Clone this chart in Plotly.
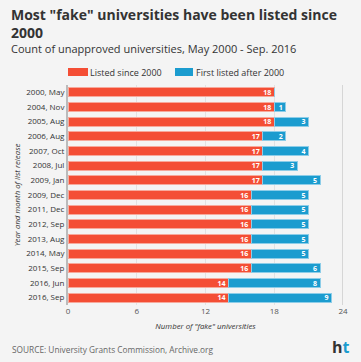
import plotly.graph_objects as go

categories = ["2000, May", "2004, Nov", "2005, Aug", "2006, Aug", "2007, Oct", "2008, Jul",
              "2009, Jan", "2009, Dec", "2011, Dec", "2012, Sep", "2013, Aug", "2014, May",
              "2015, Sep", "2016, Jun", "2016, Sep"]
listed_since_2000 = [18, 18, 18, 17, 17, 17, 17, 16, 16, 16, 16, 16, 16, 14, 14]
first_listed_after = [0, 1, 3, 2, 4, 3, 5, 5, 5, 5, 5, 5, 6, 8, 9]
x_ticks = [0, 6, 12, 18, 24]

RED = "#f44e35"
BLUE = "#1b9ccf"
BG = "#f4f4f4"
FONT = "Open Sans"

W, H = 361, 362
L, R, T, B = 68, 18, 85, 57
PW, PH = W - L - R, H - T - B


def px(x):
    return (x - L) / PW


def py(y):
    return (H - B - y) / PH


fig = go.Figure()
fig.add_trace(go.Bar(
    y=categories, x=listed_since_2000, orientation="h", name="Listed since 2000",
    marker=dict(color=RED, line=dict(color="#f7a99c", width=1)),
    text=[f"<b>{v}</b>" for v in listed_since_2000], textposition="inside", insidetextanchor="end",
    textangle=0, constraintext="none",
    textfont=dict(color="white", size=7, family=FONT),
))
fig.add_trace(go.Bar(
    y=categories, x=first_listed_after, orientation="h", name="First listed after 2000",
    marker=dict(color=BLUE, line=dict(color="#8dcde8", width=1)),
    text=[f"<b>{v}</b>" if v else "" for v in first_listed_after], textposition="inside",
    insidetextanchor="end", textangle=0, constraintext="none",
    textfont=dict(color="white", size=7, family=FONT),
))

fig.update_layout(
    barmode="stack", bargap=0.38,
    width=W, height=H,
    paper_bgcolor=BG, plot_bgcolor=BG,
    margin=dict(l=L, r=R, t=T, b=B),
    font=dict(family=FONT, color="#333333"),
    showlegend=False,
    xaxis=dict(range=[0, 24], tickvals=x_ticks, showgrid=True, gridcolor="#e2e2e2", gridwidth=1,
               zeroline=False, tickfont=dict(size=8, color="#555555"),
               title=dict(text="<i>Number of \"fake\" universities</i>", font=dict(size=7.8, color="#333333"), standoff=8),
               showline=False, fixedrange=True),
    yaxis=dict(autorange="reversed", tickfont=dict(size=8, color="#333333"), showgrid=False,
               showline=True, linecolor="#bbbbbb", linewidth=2, ticks="", ticklen=0, fixedrange=True,
               title=dict(text="<i>Year and month of list release</i>", font=dict(size=7.8, color="#333333"), standoff=5)),
)

fig.add_shape(type="line", xref="x", yref="paper", x0=24, x1=24, y0=0, y1=1,
              line=dict(color="#cccccc", width=1.5))

# legend drawn manually
fig.add_shape(type="rect", xref="paper", yref="paper", x0=px(68), x1=px(88), y0=py(76), y1=py(68),
              fillcolor=RED, line=dict(width=0))
fig.add_annotation(text="Listed since 2000", xref="paper", yref="paper", x=px(88), xanchor="left",
                   y=py(72), yanchor="middle", showarrow=False, font=dict(size=9, color="#333333"))
fig.add_shape(type="rect", xref="paper", yref="paper", x0=px(175), x1=px(193), y0=py(76), y1=py(68),
              fillcolor=BLUE, line=dict(width=0))
fig.add_annotation(text="First listed after 2000", xref="paper", yref="paper", x=px(194), xanchor="left",
                   y=py(72), yanchor="middle", showarrow=False, font=dict(size=9, color="#333333"))

fig.add_annotation(text="<b>Most \"fake\" universities have been listed since<br>2000</b>",
                   xref="paper", yref="paper", x=px(10), xanchor="left", y=py(4), yanchor="top",
                   borderpad=0, showarrow=False, align="left",
                   font=dict(size=14, color="#333333", family=FONT))
fig.add_annotation(text="Count of unapproved universities, May 2000 - Sep. 2016",
                   xref="paper", yref="paper", x=px(10), xanchor="left", y=py(48.5), yanchor="middle",
                   borderpad=0, showarrow=False, align="left", font=dict(size=11, color="#333333", family=FONT))
fig.add_annotation(text="SOURCE: University Grants Commission, Archive.org",
                   xref="paper", yref="paper", x=px(10), xanchor="left", y=py(349), yanchor="middle",
                   showarrow=False, align="left", font=dict(size=8.3, color="#666666", family=FONT))
fig.add_annotation(text="<b><span style='color:#333333'>h</span><span style='color:#1b9ccf'>t</span></b>",
                   xref="paper", yref="paper", x=px(352), xanchor="right", y=py(347), yanchor="middle",
                   showarrow=False, font=dict(size=16, family=FONT))

fig.write_html("out.html", config={"displayModeBar": False},
               post_script="document.body.style.margin='0';")
